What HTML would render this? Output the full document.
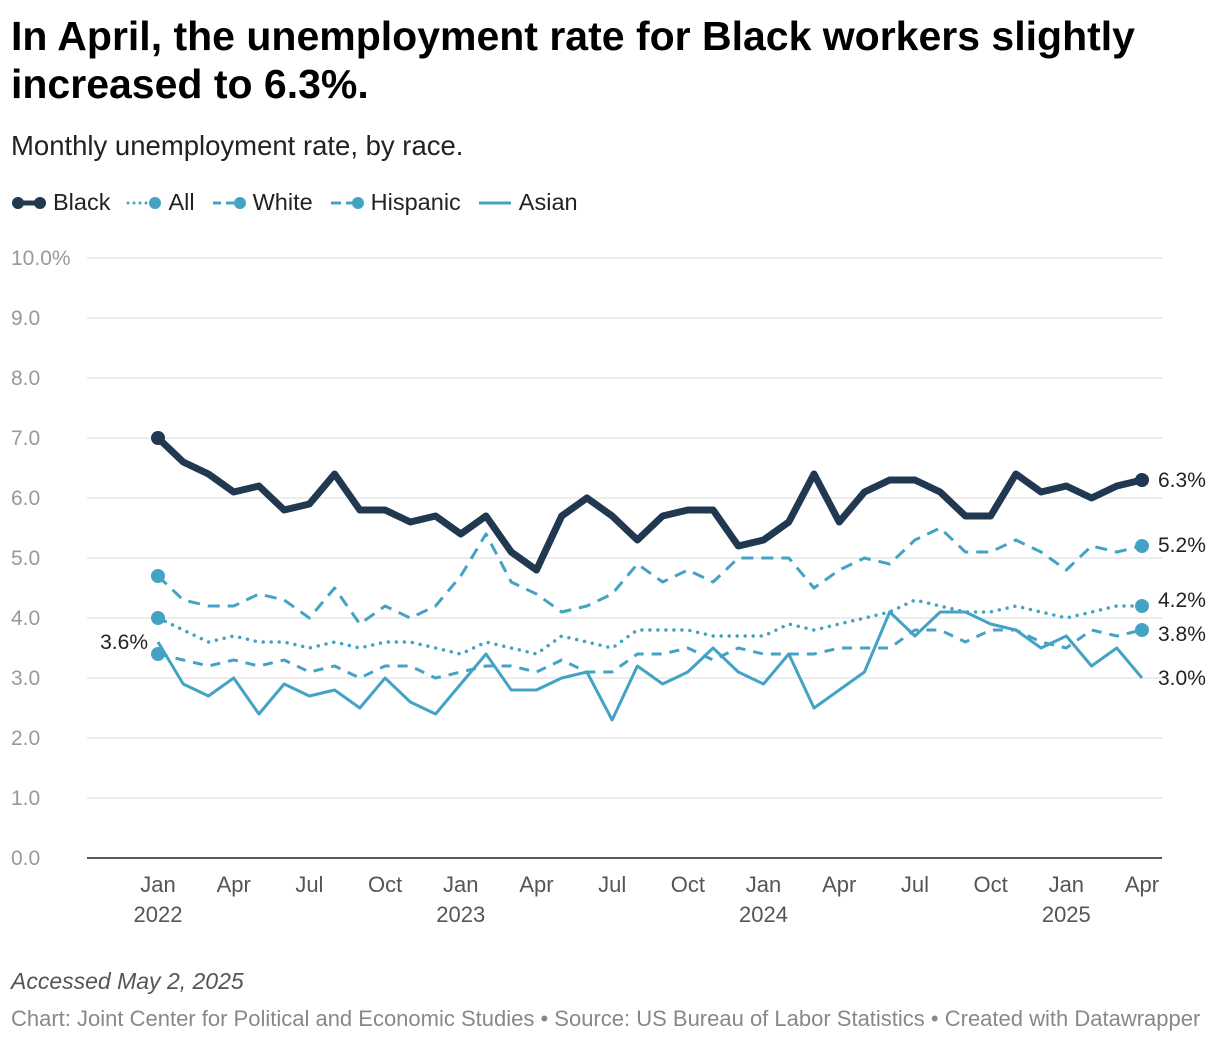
<!DOCTYPE html>
<html><head><meta charset="utf-8"><style>
body{margin:0;background:#fff;font-family:"Liberation Sans",sans-serif;width:1220px;height:1042px;overflow:hidden;position:relative}
h1{position:absolute;left:11px;top:12px;margin:0;font-size:41px;line-height:48px;font-weight:bold;color:#000;width:1210px}
.sub{position:absolute;left:11px;top:130px;font-size:27.5px;color:#222}
.legend{position:absolute;left:11px;top:189px;font-size:23.5px;color:#222;display:flex;gap:16px;align-items:center}
.li{display:flex;align-items:center;gap:6px}
.acc{position:absolute;left:11px;top:968px;font-size:23px;font-style:italic;color:#555}
.foot{position:absolute;left:11px;top:1006px;font-size:22px;color:#888}
svg{position:absolute;left:0;top:0}
</style></head><body>
<h1>In April, the unemployment rate for Black workers slightly increased to 6.3%.</h1>
<div class="sub">Monthly unemployment rate, by race.</div>
<div class="legend">
<div class="li"><svg width="36" height="14" style="position:static"><line x1="2" y1="7" x2="30" y2="7" stroke="#203850" stroke-width="5"/><circle cx="7" cy="7" r="6" fill="#203850"/><circle cx="29" cy="7" r="6" fill="#203850"/></svg>Black</div>
<div class="li"><svg width="36" height="14" style="position:static"><line x1="2" y1="7" x2="26" y2="7" stroke="#44a3c4" stroke-width="3" stroke-dasharray="0 6" stroke-linecap="round"/><circle cx="29" cy="7" r="6" fill="#44a3c4"/></svg>All</div>
<div class="li"><svg width="36" height="14" style="position:static"><line x1="2" y1="7" x2="26" y2="7" stroke="#44a3c4" stroke-width="3" stroke-dasharray="8 5"/><circle cx="29" cy="7" r="6" fill="#44a3c4"/></svg>White</div>
<div class="li"><svg width="36" height="14" style="position:static"><line x1="2" y1="7" x2="26" y2="7" stroke="#44a3c4" stroke-width="3" stroke-dasharray="10 5"/><circle cx="29" cy="7" r="6" fill="#44a3c4"/></svg>Hispanic</div>
<div class="li"><svg width="36" height="14" style="position:static"><line x1="2" y1="7" x2="34" y2="7" stroke="#44a3c4" stroke-width="3"/></svg>Asian</div>
</div>
<svg id="chart" width="1220" height="1042"></svg>
<div class="acc">Accessed May 2, 2025</div>
<div class="foot">Chart: Joint Center for Political and Economic Studies • Source: US Bureau of Labor Statistics • Created with Datawrapper</div>
<script>
const yTicks=[0,1,2,3,4,5,6,7,8,9,10];
const xTickIdx=[0,3,6,9,12,15,18,21,24,27,30,33,36,39];
const xTickLabels=["Jan","Apr","Jul","Oct","Jan","Apr","Jul","Oct","Jan","Apr","Jul","Oct","Jan","Apr"];
const yearLabels=["2022","","","","2023","","","","2024","","","","2025",""];
const black=[7.0,6.6,6.4,6.1,6.2,5.8,5.9,6.4,5.8,5.8,5.6,5.7,5.4,5.7,5.1,4.8,5.7,6.0,5.7,5.3,5.7,5.8,5.8,5.2,5.3,5.6,6.4,5.6,6.1,6.3,6.3,6.1,5.7,5.7,6.4,6.1,6.2,6.0,6.2,6.3];
const hispanic=[4.7,4.3,4.2,4.2,4.4,4.3,4.0,4.5,3.9,4.2,4.0,4.2,4.7,5.4,4.6,4.4,4.1,4.2,4.4,4.9,4.6,4.8,4.6,5.0,5.0,5.0,4.5,4.8,5.0,4.9,5.3,5.5,5.1,5.1,5.3,5.1,4.8,5.2,5.1,5.2];
const all=[4.0,3.8,3.6,3.7,3.6,3.6,3.5,3.6,3.5,3.6,3.6,3.5,3.4,3.6,3.5,3.4,3.7,3.6,3.5,3.8,3.8,3.8,3.7,3.7,3.7,3.9,3.8,3.9,4.0,4.1,4.3,4.2,4.1,4.1,4.2,4.1,4.0,4.1,4.2,4.2];
const white=[3.4,3.3,3.2,3.3,3.2,3.3,3.1,3.2,3.0,3.2,3.2,3.0,3.1,3.2,3.2,3.1,3.3,3.1,3.1,3.4,3.4,3.5,3.3,3.5,3.4,3.4,3.4,3.5,3.5,3.5,3.8,3.8,3.6,3.8,3.8,3.6,3.5,3.8,3.7,3.8];
const asian=[3.6,2.9,2.7,3.0,2.4,2.9,2.7,2.8,2.5,3.0,2.6,2.4,2.9,3.4,2.8,2.8,3.0,3.1,2.3,3.2,2.9,3.1,3.5,3.1,2.9,3.4,2.5,2.8,3.1,4.1,3.7,4.1,4.1,3.9,3.8,3.5,3.7,3.2,3.5,3.0];
const NS="http://www.w3.org/2000/svg",svg=document.getElementById('chart');
const x=i=>158+i*(1142-158)/39, y=v=>858-v*60;
function mk(t,a){const e=document.createElementNS(NS,t);for(const k in a)e.setAttribute(k,a[k]);svg.appendChild(e);return e;}
yTicks.forEach(v=>{
 const g=mk('line',{x1:87,x2:1162,y1:y(v),y2:y(v),stroke:v===0?'#222':'#e2e2e2','stroke-width':v===0?1.5:1.3});
 
 
 const t=mk('text',{x:11,y:y(v)+7,'font-size':21,fill:'#999'});
 t.textContent=v.toFixed(1)+(v===10?'%':'');
 
 
});
xTickIdx.forEach((idx,k)=>{
 const t=mk('text',{x:x(idx),y:892,'font-size':22,fill:'#555','text-anchor':'middle'});
 t.textContent=xTickLabels[k];
 
 
 if(yearLabels[k]){const t2=mk('text',{x:x(idx),y:922,'font-size':22,fill:'#555','text-anchor':'middle'});
 t2.textContent=yearLabels[k];
 
 }
});
function series(d,name,col,w,dash,dots,lbl,ly,cap){
 const p=mk('polyline',{points:d.map((v,i)=>x(i)+','+y(v)).join(' '),fill:'none',stroke:col,'stroke-width':w,'stroke-dasharray':dash||'none','stroke-linejoin':'round','stroke-linecap':cap||'butt'});
 
 
 if(dots){[0,d.length-1].forEach(i=>{const c=mk('circle',{cx:x(i),cy:y(d[i]),r:7,fill:col});
 
 });}
 const t=mk('text',{x:1158,y:y(d[d.length-1])+(ly||0)+7,'font-size':21,fill:'#222'});
 t.textContent=lbl;
 
 
}
series(asian,'asian','#44a3c4',3,null,false,asian[39].toFixed(1)+'%',0);
series(white,'white','#44a3c4',3,'10 8',true,white[39].toFixed(1)+'%',4);
series(all,'all','#44a3c4',3.5,'0 8',true,all[39].toFixed(1)+'%',-6,'round');
series(hispanic,'hispanic','#44a3c4',3,'12 8',true,hispanic[39].toFixed(1)+'%',-1);
series(black,'black','#203850',7,null,true,black[39].toFixed(1)+'%',0);
const s=mk('text',{x:148,y:y(asian[0])+7,'font-size':21,fill:'#222','text-anchor':'end'});
s.textContent=asian[0].toFixed(1)+'%';


</script>
</body></html>
